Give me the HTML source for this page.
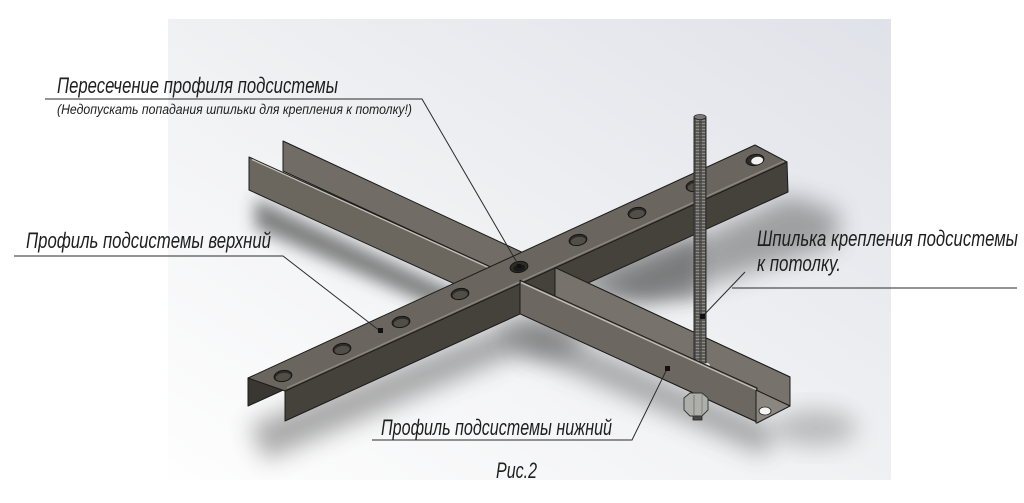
<!DOCTYPE html>
<html><head><meta charset="utf-8"><style>
html,body{margin:0;padding:0;background:#fff;}
svg{display:block;}
text{font-family:"Liberation Sans Narrow","Liberation Sans",sans-serif;font-style:italic;fill:#1e1e1e;}
</style></head><body>
<svg width="1024" height="503" viewBox="0 0 1024 503" xmlns="http://www.w3.org/2000/svg">
<defs>
<linearGradient id="bg" x1="0" y1="1" x2="1" y2="0">
<stop offset="0" stop-color="#fefefe"/>
<stop offset="0.45" stop-color="#f1f2f4"/>
<stop offset="1" stop-color="#e0e2e9"/>
</linearGradient>
<filter id="b12" x="-50%" y="-50%" width="200%" height="200%"><feGaussianBlur stdDeviation="12"/></filter>
<filter id="b8" x="-50%" y="-50%" width="200%" height="200%"><feGaussianBlur stdDeviation="8"/></filter>
<clipPath id="bgc"><rect x="168" y="19" width="723" height="461"/></clipPath>
<pattern id="thr" width="6" height="3" patternUnits="userSpaceOnUse">
<rect width="6" height="3" fill="#5e5d59"/>
<rect x="0" y="0" width="3" height="1" fill="#8e8d88"/>
<rect x="3" y="1.5" width="3" height="1" fill="#3a3936"/>
</pattern>
</defs>
<rect width="1024" height="503" fill="#fff"/>
<rect x="168" y="19" width="723" height="461" fill="url(#bg)"/>

<!-- shadows -->
<g clip-path="url(#bgc)">
<polygon points="255,198 470,298 470,322 255,228" fill="#333" opacity="0.6" filter="url(#b8)"/>
<polygon points="250,425 520,318 525,350 265,460" fill="#444" opacity="0.45" filter="url(#b12)"/>
<polygon points="530,322 775,428 765,455 520,350" fill="#444" opacity="0.45" filter="url(#b12)"/>
<ellipse cx="815" cy="428" rx="42" ry="18" fill="#555" opacity="0.35" filter="url(#b12)"/>
<polygon points="590,285 790,195 840,212 835,245 640,305" fill="#444" opacity="0.45" filter="url(#b12)"/>
<ellipse cx="545" cy="335" rx="40" ry="22" fill="#444" opacity="0.4" filter="url(#b12)"/>
<polygon points="555,270 700,235 700,300 600,300" fill="#333" opacity="0.35" filter="url(#b8)"/>
</g>

<g stroke="#1b1b1b" stroke-width="1" stroke-linejoin="round">
<polygon points="283,141 790,377 790,406 283,171" fill="#716d66"/>
<polygon points="249,157 757,388 757,422 249,190" fill="#6b675f"/>
</g>
<line x1="252" y1="159.5" x2="520" y2="282" stroke="#c4c0b8" stroke-width="1.3"/>

<g stroke="#1b1b1b" stroke-width="1" stroke-linejoin="round">
<polygon points="248,378 248,406 292,386 292,370" fill="#3a3732"/>
<polygon points="285,391 787,162 788,192 285,421" fill="#45413b"/>
<polygon points="248,378 755,145 787,162 285,391" fill="#6a665f"/>
</g>
<line x1="287" y1="388" x2="784" y2="161" stroke="#8f8b84" stroke-width="1.2"/>

<g stroke="#121212" stroke-width="0.9">
<g transform="translate(283,376) rotate(-10)"><ellipse rx="9" ry="5.5" fill="#2e2c29"/><ellipse cy="1" rx="7.5" ry="4" fill="#514d47" stroke="none"/></g>
<g transform="translate(342,349) rotate(-10)"><ellipse rx="9" ry="5.5" fill="#2e2c29"/><ellipse cy="1" rx="7.5" ry="4" fill="#514d47" stroke="none"/></g>
<g transform="translate(401,322) rotate(-10)"><ellipse rx="9" ry="5.5" fill="#2e2c29"/><ellipse cy="1" rx="7.5" ry="4" fill="#514d47" stroke="none"/></g>
<g transform="translate(460,294) rotate(-10)"><ellipse rx="9" ry="5.5" fill="#2e2c29"/><ellipse cy="1" rx="7.5" ry="4" fill="#514d47" stroke="none"/></g>
<g transform="translate(519,267) rotate(-10)"><ellipse rx="9" ry="5.5" fill="#2e2c29"/><ellipse cy="1" rx="6" ry="3.5" fill="#1a1a1a" stroke="none"/></g>
<g transform="translate(578,240) rotate(-10)"><ellipse rx="9" ry="5.5" fill="#2e2c29"/><ellipse cy="1" rx="7.5" ry="4" fill="#514d47" stroke="none"/></g>
<g transform="translate(637,213) rotate(-10)"><ellipse rx="9" ry="5.5" fill="#2e2c29"/><ellipse cy="1" rx="7.5" ry="4" fill="#514d47" stroke="none"/></g>
<g transform="translate(695,186) rotate(-10)"><ellipse rx="9" ry="5.5" fill="#2e2c29"/><ellipse cy="1" rx="7.5" ry="4" fill="#514d47" stroke="none"/></g>
<g transform="translate(755,160) rotate(-10)"><ellipse rx="9" ry="5.5" fill="#2e2c29"/><ellipse cx="2" cy="1" rx="6" ry="3.8" fill="#f2f2f2" stroke="none"/></g>
</g>

<g stroke="#1b1b1b" stroke-width="1" stroke-linejoin="round">
<polygon points="555,267.6 790,377 790,406 555,297" fill="#77736c"/>
</g>

<rect x="694" y="117" width="12" height="258" fill="url(#thr)" stroke="#2a2a2a" stroke-width="1"/>
<ellipse cx="700" cy="117" rx="6" ry="2.5" fill="#7a7975" stroke="#2a2a2a" stroke-width="0.8"/>
<ellipse cx="707" cy="366" rx="3" ry="3" fill="#e6e6e2"/>

<g stroke="#1b1b1b" stroke-width="1" stroke-linejoin="round">
<polygon points="520,280.2 757,388 757,422 520,313.8" fill="#6c6861"/>
<polygon points="756,390 790,406 757,423 756,423" fill="#8b8780"/>
</g>
<line x1="521" y1="282.5" x2="756" y2="389.5" stroke="#c4c0b8" stroke-width="1.3"/>
<ellipse cx="765" cy="411" rx="6" ry="4" fill="#f4f4f4" stroke="#222" stroke-width="0.8"/>

<rect x="693" y="412" width="9" height="8" fill="#4a4946" stroke="#222" stroke-width="0.8"/>
<polygon points="684,398 690,393 702,393 708,398 708,410 702,416 690,416 684,410" fill="#aeaeaa" stroke="#333" stroke-width="0.9"/>
<line x1="694" y1="395" x2="694" y2="415" stroke="#6e6e6a" stroke-width="0.8"/>
<line x1="702" y1="394" x2="702" y2="415" stroke="#7a7a76" stroke-width="0.8"/>

<g stroke="#2a2a2a" stroke-width="1" fill="none">
<polyline points="45,99 422,99 519,266"/>
<polyline points="14,256 283,256 380,331"/>
<line x1="732" y1="288" x2="1017" y2="288"/>
<line x1="745" y1="272" x2="702" y2="317"/>
<polyline points="372,440 632,440 667,369"/>
</g>
<g fill="#111">
<rect x="378" y="328" width="5" height="5"/>
<rect x="700" y="314" width="5" height="5"/>
<rect x="665" y="366" width="5" height="5"/>
<rect x="517" y="264" width="4" height="4"/>
</g>

<text x="57" y="93" font-size="22" textLength="281" lengthAdjust="spacingAndGlyphs">Пересечение профиля подсистемы</text>
<text x="57" y="114" font-size="13.5" textLength="355" lengthAdjust="spacingAndGlyphs">(Недопускать попадания шпильки для крепления к потолку!)</text>
<text x="26" y="248" font-size="22" textLength="245" lengthAdjust="spacingAndGlyphs">Профиль подсистемы верхний</text>
<text x="757" y="246" font-size="22" textLength="261" lengthAdjust="spacingAndGlyphs">Шпилька крепления подсистемы</text>
<text x="757" y="271" font-size="22" textLength="84" lengthAdjust="spacingAndGlyphs">к потолку.</text>
<text x="381" y="435" font-size="22" textLength="231" lengthAdjust="spacingAndGlyphs">Профиль подсистемы нижний</text>
<text x="496" y="478" font-size="22" textLength="41" lengthAdjust="spacingAndGlyphs">Рис.2</text>
</svg>
</body></html>
